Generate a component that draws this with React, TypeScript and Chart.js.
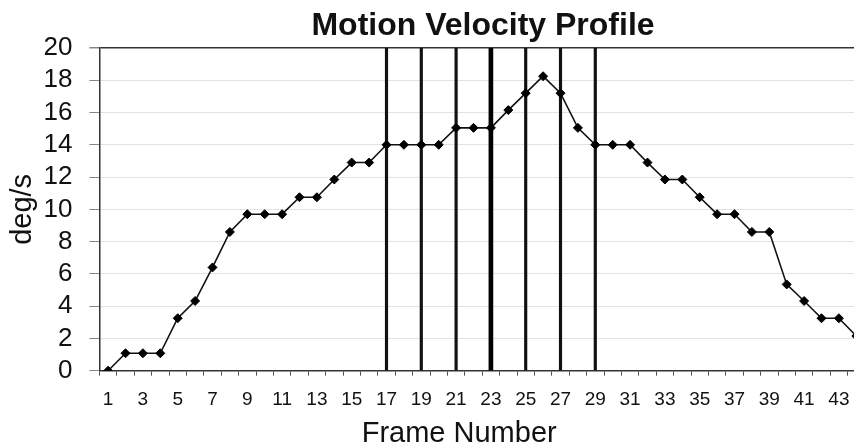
import React, { useEffect, useRef } from "react";
import { Chart, registerables } from "chart.js";

Chart.register(...registerables);

const frames: string[] = Array.from({ length: 44 }, (_, i) => String(i + 1));
const velocity: number[] = [
  0, 1.08, 1.08, 1.08, 3.25, 4.32, 6.4, 8.6, 9.7, 9.7, 9.7, 10.75, 10.75, 11.85,
  12.9, 12.9, 14, 14, 14, 14, 15.05, 15.05, 15.05, 16.15, 17.2, 18.25, 17.2,
  15.05, 14, 14, 14, 12.9, 11.85, 11.85, 10.75, 9.7, 9.7, 8.6, 8.6, 5.35, 4.32,
  3.25, 3.25, 2.15,
];
const markerFrames: number[] = [17, 19, 21, 25, 27, 29];
const keyFrames: number[] = [23];
const yMax = 20;
const yStep = 2;

const TITLE = "Motion Velocity Profile";
const X_TITLE = "Frame Number";
const Y_TITLE = "deg/s";
const FONT = '"Liberation Sans", Arial, sans-serif';

const xTitlePlugin = {
  id: "xTitle",
  afterDraw(chart: any) {
    const { ctx, chartArea } = chart;
    ctx.save();
    ctx.font = `29px ${FONT}`;
    ctx.fillStyle = "#111";
    ctx.textAlign = "center";
    ctx.textBaseline = "alphabetic";
    ctx.fillText(X_TITLE, (chartArea.left + chartArea.right) / 2 - 23, 441.5);
    ctx.restore();
  },
};

export default function App() {
  const ref = useRef<HTMLCanvasElement>(null);
  useEffect(() => {
    if (!ref.current) return;
    const toBars = (list: number[]) =>
      frames.map((f) => (list.includes(Number(f)) ? yMax : null));
    const chart = new Chart(ref.current, {
      type: "line",
      data: {
        labels: frames,
        datasets: [
          {
            type: "line",
            data: velocity,
            borderColor: "#111",
            borderWidth: 1.6,
            pointStyle: "rectRot",
            pointRadius: 4.5,
            pointBorderWidth: 1,
            pointBackgroundColor: "#000",
            pointBorderColor: "#000",
            tension: 0,
          } as any,
          {
            type: "bar",
            data: toBars(markerFrames),
            backgroundColor: "#111",
            borderWidth: 0,
            barThickness: 2.5,
            grouped: false,
          } as any,
          {
            type: "bar",
            data: toBars(keyFrames),
            backgroundColor: "#000",
            borderWidth: 0,
            barThickness: 4,
            grouped: false,
          } as any,
        ],
      },
      options: {
        animation: false,
        responsive: false,
        layout: { padding: 0 },
        plugins: {
          legend: { display: false },
          tooltip: { enabled: false },
          title: {
            display: true,
            text: TITLE,
            color: "#111",
            font: { family: FONT, size: 32, weight: "bold", lineHeight: 1.2 },
            padding: { top: 7, bottom: 2.6 },
          },
        },
        scales: {
          x: {
            offset: true,
            grid: {
              offset: true,
              drawOnChartArea: false,
              tickLength: 5,
              tickColor: "#555",
            },
            border: { color: "#333", width: 1.5 },
            ticks: {
              autoSkip: false,
              maxRotation: 0,
              padding: 13,
              color: "#111",
              font: { family: FONT, size: 19 },
              callback: (_v: any, i: number) => (i % 2 === 0 ? frames[i] : ""),
            },
            afterFit: (s: any) => {
              s.height = 75.3;
            },
          },
          y: {
            min: 0,
            max: yMax,
            ticks: {
              stepSize: yStep,
              autoSkip: false,
              maxTicksLimit: 11,
              padding: 17,
              color: "#111",
              font: { family: FONT, size: 26, lineHeight: 1 },
            },
            grid: {
              color: (c: any) => (c.tick && c.tick.value === yMax ? "#333" : "#e2e2e2"),
              lineWidth: (c: any) => (c.tick && c.tick.value === yMax ? 1.5 : 1),
              tickLength: 10,
              tickColor: "#888",
            },
            border: { color: "#333", width: 1.5 },
            title: {
              display: true,
              text: Y_TITLE,
              color: "#111",
              font: { family: FONT, size: 29, lineHeight: 1.2 },
              padding: { top: 6, bottom: 0 },
            },
            afterFit: (s: any) => {
              s.width = 99.4;
            },
          },
          y2: {
            position: "right",
            display: true,
            grid: { display: false },
            ticks: { display: false },
            border: { display: false },
            afterFit: (s: any) => {
              s.width = 101;
            },
          },
        },
      } as any,
      plugins: [xTitlePlugin],
    });
    return () => chart.destroy();
  }, []);
  return (
    <div
      style={{
        position: "fixed",
        left: 0,
        top: 0,
        width: 854,
        height: 446,
        overflow: "hidden",
        background: "#fff",
      }}
    >
      <canvas ref={ref} width={966} height={446} style={{ display: "block" }} />
    </div>
  );
}
